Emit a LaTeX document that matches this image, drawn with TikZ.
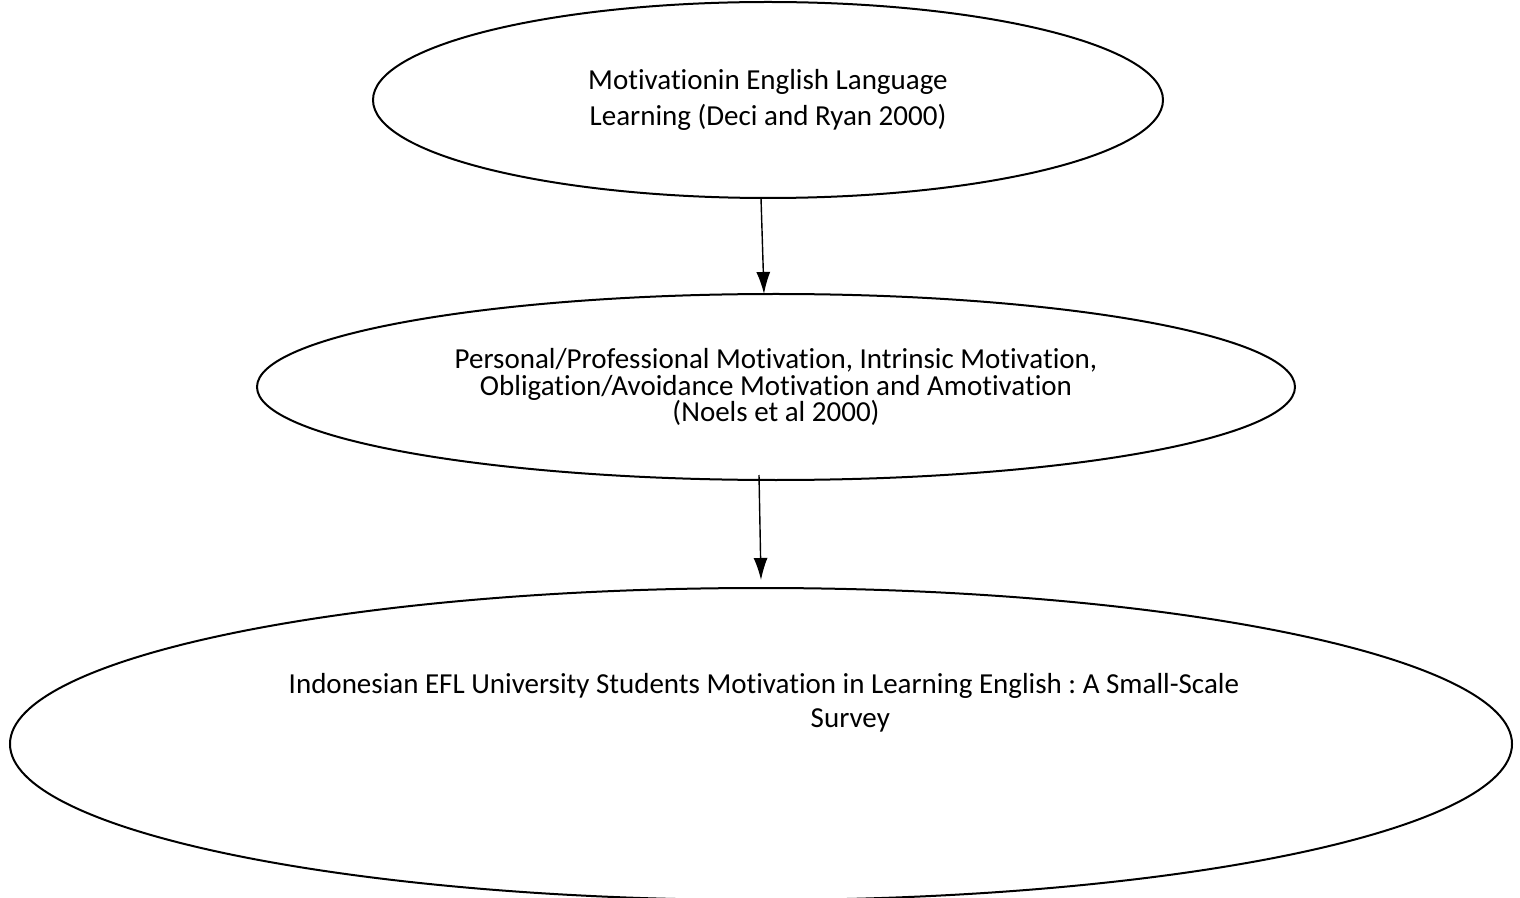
\documentclass[tikz,border=0pt]{standalone}
\usepackage{fontspec}
\setmainfont{Carlito}[Ligatures=NoCommon]
\usetikzlibrary{shapes.geometric,arrows.meta}
\frenchspacing

\begin{document}
\begin{tikzpicture}[x=0.5pt, y=-0.5pt, >={Latex[length=11pt,width=7pt]},
  bubble/.style={ellipse, draw, line width=1pt, inner sep=0pt, outer sep=0pt,
    align=center, font=\fontsize{14.5}{18}\selectfont},
  link/.style={->, line width=0.7pt}]
  % Fix the page to the size of the reference
  \useasboundingbox (0,0) rectangle (1520,898);

  % The three ellipses, from top to bottom
  \node[bubble, minimum width=395pt, minimum height=98pt] (theory) at (768,100)
    {Motivationin English Language\\Learning (Deci and Ryan 2000)};
  \node[bubble, minimum width=519pt, minimum height=93pt,
    font=\fontsize{14.5}{13.25}\selectfont] (types) at (776,387)
    {Personal/Professional Motivation, Intrinsic Motivation,\\Obligation/Avoidance Motivation and Amotivation\\(Noels et al 2000)};
  \node[bubble, minimum width=751pt, minimum height=156pt] (study) at (761,744) {};
  % Title of the study sits in the upper half of the last ellipse
  \node[align=left, inner sep=0pt, font=\fontsize{14.5}{17}\selectfont\frenchspacing] (title) at (764,703)
    {Indonesian EFL University Students Motivation in Learning English : A Small-Scale\\\hspace*{261pt}Survey};

  % Arrows between the levels
  \draw[link] ([xshift=-3.5pt]theory.south) -- ([xshift=-6pt]types.north);
  \draw[link] ([xshift=-8.5pt, yshift=2.5pt]types.south) -- ([yshift=4pt]study.north);
\end{tikzpicture}
\end{document}
